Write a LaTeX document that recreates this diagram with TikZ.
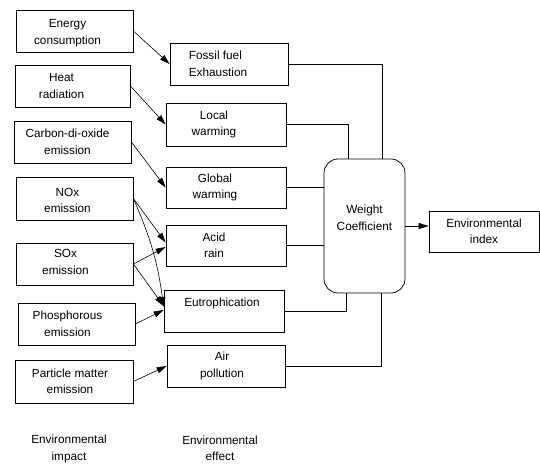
\documentclass[tikz,border=0pt]{standalone}
\usepackage{fontspec}
\setmainfont{Liberation Sans}
\usetikzlibrary{arrows.meta,calc}
\begin{document}
\begin{tikzpicture}[x=1pt,y=-1pt,
  boxst/.style={draw,line width=0.75pt,minimum width=117pt,minimum height=42pt,inner sep=0pt},
  midbox/.style={boxst,minimum width=119pt},
  txt/.style={inner sep=0pt,align=center,font=\fontsize{11.8}{16.5}\selectfont},
  link/.style={line width=0.6pt},
  arr/.style={line width=0.6pt,-{Triangle[length=10pt,width=6pt]}}
]
\useasboundingbox (0,0) rectangle (540,465);

% left column boxes
\node[boxst] (energy) at (74.5,31) {};
\node[boxst,minimum width=115pt] (heat) at (72.5,86) {};
\node[boxst] (co2) at (72.5,142) {};
\node[boxst,minimum height=43pt] (nox) at (74.5,198.5) {};
\node[boxst] (sox) at (74.5,264) {};
\node[boxst] (phos) at (76.5,324) {};
\node[boxst,minimum width=118pt,minimum height=43pt] (part) at (74,381.5) {};

\node[txt] (energyT) at ([xshift=-7pt,yshift=-2pt]energy.center) {Energy\\consumption};
\node[txt] (heatT) at ([xshift=-11pt]heat.center) {Heat\\radiation};
\node[txt] (co2T) at ([xshift=-5pt]co2.center) {Carbon-di-oxide\\emission};
\node[txt] (noxT) at ([xshift=-7pt,yshift=-2pt]nox.center) {NOx\\emission};
\node[txt] (soxT) at ([xshift=-9pt,yshift=2pt]sox.center) {SOx\\emission};
\node[txt] (phosT) at ([xshift=-9pt]phos.center) {Phosphorous\\emission};
\node[txt] (partT) at ([xshift=-4pt]part.center) {Particle matter\\emission};

% middle column boxes
\node[midbox,minimum width=118pt] (fossil) at (229,64) {};
\node[midbox,minimum width=120pt,minimum height=43pt] (local) at (226,124.5) {};
\node[midbox,minimum width=120pt,minimum height=41pt] (global) at (226,187.5) {};
\node[midbox,minimum width=120pt,minimum height=41pt] (acid) at (226,245.5) {};
\node[midbox,minimum width=120pt] (eutro) at (224,311) {};
\node[midbox,minimum width=118pt] (air) at (226,366) {};

\node[txt,align=left] (fossilT) at ([xshift=-11pt]fossil.center) {Fossil fuel\\Exhaustion};
\node[txt] (localT) at ([xshift=-12pt]local.center) {Local\\warming};
\node[txt] (globalT) at ([xshift=-11pt]global.center) {Global\\warming};
\node[txt] (acidT) at ([xshift=-12pt]acid.center) {Acid\\rain};
\node[txt] (eutroT) at ([xshift=-2pt,yshift=8pt]eutro.center) {Eutrophication};
\node[txt] (airT) at ([xshift=-4pt]air.center) {Air\\pollution};

% weight coefficient
\node[draw,line width=0.75pt,rounded corners=14pt,minimum width=81pt,minimum height=134pt,inner sep=0pt] (weight) at (364.5,226) {};
\node[txt] (weightT) at ([yshift=8pt]weight.center) {Weight\\Coefficient};

% environmental index
\node[boxst,minimum width=110pt,minimum height=41pt] (envidx) at (484,231.5) {};
\node[txt] (envidxT) at (envidx.center) {Environmental\\index};

% bottom captions
\node[txt] (impact) at (69,449) {Environmental\\impact};
\node[txt] (effect) at (220,448.5) {Environmental\\effect};

% left arrows
\draw[arr] (energy.east) -- (fossil.west);
\draw[arr] (heat.east) -- (local.west);
\draw[arr] (co2.east) -- (global.west);
\draw[arr] (nox.east) -- ([yshift=3pt]acid.west);
\draw[arr] (nox.east) to[bend left=8] ([yshift=4pt]eutro.west);
\draw[arr] (sox.east) -- ([yshift=-1.5pt]acid.west);
\draw[arr] (sox.east) -- ([yshift=5pt]eutro.west);
\draw[arr] (phos.east) -- ([yshift=1pt]eutro.west);
\draw[arr] (part.east) -- (air.west);

% to weight coefficient
\draw[link] (fossil.east) -| ([xshift=17.5pt]weight.north);
\draw[link] (local.east) -| ([xshift=-16.5pt]weight.north);
\draw[link] (global.east) -- (global.east -| weight.west);
\draw[link] (acid.east) -- (acid.east -| weight.west);
\draw[link] (eutro.east) -| ([xshift=-18.5pt]weight.south);
\draw[link] (air.east) -| ([xshift=16.5pt]weight.south);

% to index
\draw[arr] (weight.east) -- (weight.east -| envidx.west);
\end{tikzpicture}
\end{document}
